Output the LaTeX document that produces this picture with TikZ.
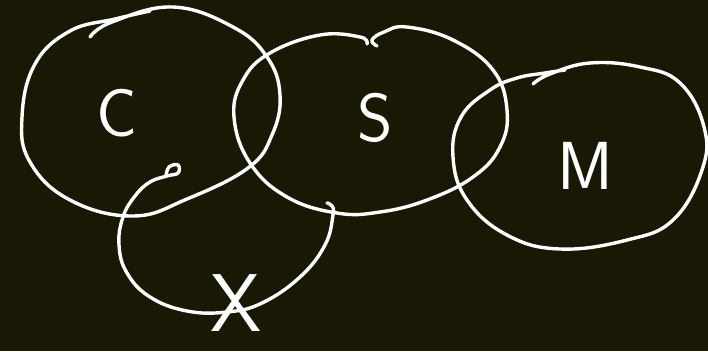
\documentclass[tikz,border=0pt]{standalone}
\definecolor{board}{RGB}{25,24,4}
\begin{document}
\begin{tikzpicture}[x = 1pt, y = -1pt,
        chalk/.style = {draw = white, line width = 3.4pt, line cap = round, line join = round},
        letter/.style = {text = white, inner sep = 0pt, font = \sffamily\fontsize{68}{68}\selectfont}]
        \fill[board] (0, 0) rectangle (708, 351);
        \useasboundingbox (0, 0) rectangle (708, 351);
        % sets
        \draw[chalk] plot[smooth, tension = 0.7] coordinates {(90, 37) (112, 22) (173, 7) (233, 27) (267, 57) (280, 95) (272, 135) (248, 168) (187, 199) (133, 216) (70, 200) (30, 162) (22, 117) (35, 64) (70, 31) (115, 19) (150, 11)};
        \draw[chalk] plot[smooth, tension = 0.7] coordinates {(377, 46) (372, 40) (384, 32) (407, 27) (453, 40) (493, 70) (507, 110) (500, 147) (473, 177) (427, 200) (380, 212) (337, 213) (287, 197) (250, 163) (234, 117) (243, 80) (270, 53) (320, 35) (360, 37) (367, 44)};
        \draw[chalk] plot[smooth, tension = 0.7] coordinates {(533, 84) (550, 74) (590, 63) (640, 67) (680, 83) (704, 127) (702, 170) (673, 220) (627, 240) (560, 249) (507, 235) (467, 200) (453, 157) (461, 117) (490, 90) (517, 78) (545, 73) (565, 70)};
        \draw[chalk] plot[smooth, tension = 0.7] coordinates {(166, 176) (169, 167) (178, 165) (178, 173) (167, 176) (150, 182) (135, 196) (123, 217) (119, 245) (127, 273) (150, 297) (187, 311) (227, 312) (262, 303) (300, 277) (325, 245) (333, 215) (332, 206) (327, 203)};
        % labels
        \node[letter] (c) at (117, 113) {C};
        \node[letter] (s) at (375, 118) {S};
        \node[letter] (m) at (585, 166) {M};
        \node[letter, font = \sffamily\fontsize{82}{82}\selectfont] (x) at (236, 303) {X};
    \end{tikzpicture}
\end{document}
